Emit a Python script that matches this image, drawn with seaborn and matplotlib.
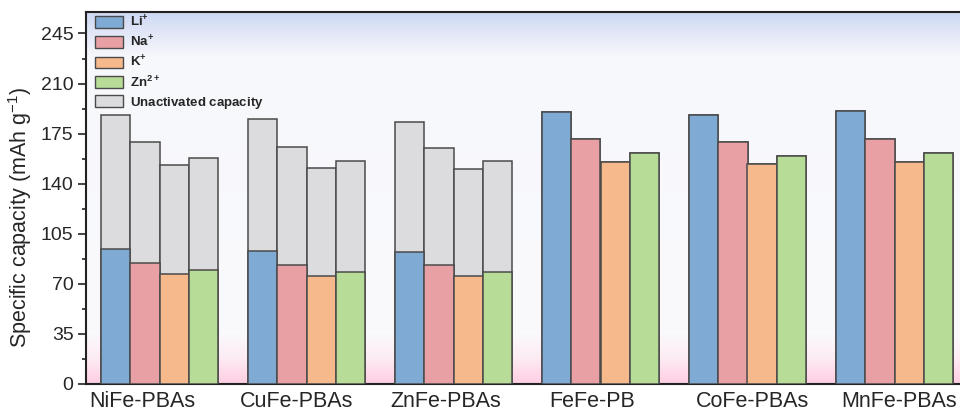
import numpy as np
import pandas as pd
import matplotlib
matplotlib.use("Agg")
import matplotlib.pyplot as plt
import seaborn as sns
from matplotlib.patches import Patch

# ---- data (mAh g^-1) ----
materials = ["NiFe-PBAs", "CuFe-PBAs", "ZnFe-PBAs", "FeFe-PB", "CoFe-PBAs", "MnFe-PBAs"]
ions = ["Li", "Na", "K", "Zn"]
ion_labels = [r"$\mathbf{Li^{+}}$", r"$\mathbf{Na^{+}}$", r"$\mathbf{K^{+}}$", r"$\mathbf{Zn^{2+}}$"]

total_li = [187.9, 185.1, 183.2, 190.2, 188.1, 191.1]
total_na = [168.9, 165.6, 165.1, 170.9, 169.3, 171.3]
total_k = [153.2, 150.7, 150.2, 155.1, 153.8, 155.5]
total_zn = [158.1, 156.0, 155.6, 161.2, 159.4, 161.4]

active_li = [94.1, 92.7, 92.0, 190.2, 188.1, 191.1]
active_na = [84.5, 83.1, 82.9, 170.9, 169.3, 171.3]
active_k = [77.1, 75.7, 75.4, 155.1, 153.8, 155.5]
active_zn = [79.4, 78.2, 78.0, 161.2, 159.4, 161.4]

yticks = [0, 35, 70, 105, 140, 175, 210, 245]
# small horizontal nudges of the category labels (in category units)
label_shift = [-0.12, -0.07, -0.05, -0.055, 0.035, 0.03]

ion_colors = ["#7faad3", "#e8a0a4", "#f5b98c", "#b6dc97"]
gray = "#dcdcde"
edge = "#4a4a4a"

totals = {"Li": total_li, "Na": total_na, "K": total_k, "Zn": total_zn}
actives = {"Li": active_li, "Na": active_na, "K": active_k, "Zn": active_zn}
rows = []
for ion in ions:
    for m, t, a in zip(materials, totals[ion], actives[ion]):
        rows.append({"material": m, "ion": ion, "total": t, "active": a})
df = pd.DataFrame(rows)

# ---- style ----
sns.set_style("ticks")
plt.rcParams["font.family"] = ["Liberation Sans", "DejaVu Sans"]
plt.rcParams["mathtext.fontset"] = "custom"
plt.rcParams["mathtext.rm"] = "Liberation Sans"
plt.rcParams["mathtext.it"] = "Liberation Sans:italic"
plt.rcParams["mathtext.bf"] = "Liberation Sans:bold"
plt.rcParams["mathtext.default"] = "regular"

fig = plt.figure(figsize=(9.6, 4.17), dpi=100)
ax = fig.add_axes([86 / 960, 1 - 384 / 417, 1 - 86 / 960, (384 - 12) / 417])

# background gradient: lavender at the top, white middle, pink at the base
n = 400
pos = np.linspace(0, 1, n)  # 0 = top, 1 = bottom
stops = [0.0, 0.05, 0.12, 0.86, 0.93, 1.0]
cols = np.array([
    [206, 216, 243],
    [224, 230, 247],
    [247, 248, 252],
    [250, 250, 253],
    [253, 236, 244],
    [255, 205, 226],
]) / 255.0
grad = np.stack([np.interp(pos, stops, cols[:, c]) for c in range(3)], axis=1)
img = np.repeat(grad[:, None, :], 2, axis=1)
ax.imshow(img, extent=(0, 1, 0, 1), transform=ax.transAxes, aspect="auto", zorder=0)

# total capacity (grey, unactivated part shows above the coloured bar)
sns.barplot(data=df, x="material", y="total", hue="ion", hue_order=ions,
            palette=[gray] * 4, saturation=1, edgecolor=edge, linewidth=1.1,
            errorbar=None, legend=False, ax=ax, zorder=2)
# activated capacity per ion
sns.barplot(data=df, x="material", y="active", hue="ion", hue_order=ions,
            palette=ion_colors, saturation=1, edgecolor=edge, linewidth=1.1,
            errorbar=None, legend=False, ax=ax, zorder=3)

ax.set_xlim(-0.5, -0.5 + 874 / 147)
ax.set_ylim(0, 260)
ax.set_xticks(np.arange(len(materials)) + np.array(label_shift))
ax.set_xticklabels(materials)
ax.set_yticks(yticks)
ax.set_yticks(np.arange(17.5, 260, 35), minor=True)
ax.tick_params(axis="y", which="major", length=6, width=1.2, labelsize=14, pad=3, color="#222222")
ax.tick_params(axis="y", which="minor", length=3, width=1.2, color="#222222")
ax.tick_params(axis="x", length=0, labelsize=15.5, pad=5)
ax.set_xlabel("")
ax.set_ylabel("Specific capacity (mAh g$^{-1}$)", fontsize=15.5)
ax.yaxis.set_label_coords(-0.0595, 0.449)

for s in ["left", "bottom", "top"]:
    ax.spines[s].set_linewidth(1.5)
    ax.spines[s].set_color("#222222")
ax.spines["right"].set_visible(False)

handles = [Patch(facecolor=c, edgecolor=edge, linewidth=1.0) for c in ion_colors + [gray]]
labels = ion_labels + [r"$\mathbf{Unactivated\ capacity}$"]
leg = ax.legend(handles, labels, loc="upper left", bbox_to_anchor=(0.0065, 1.002),
                frameon=False, fontsize=9.5, handlelength=2.1, handleheight=1.0,
                labelspacing=0.36, handletextpad=0.55, borderpad=0.25, borderaxespad=0.0)
leg.set_zorder(5)

fig.savefig("out.png", dpi=100)
